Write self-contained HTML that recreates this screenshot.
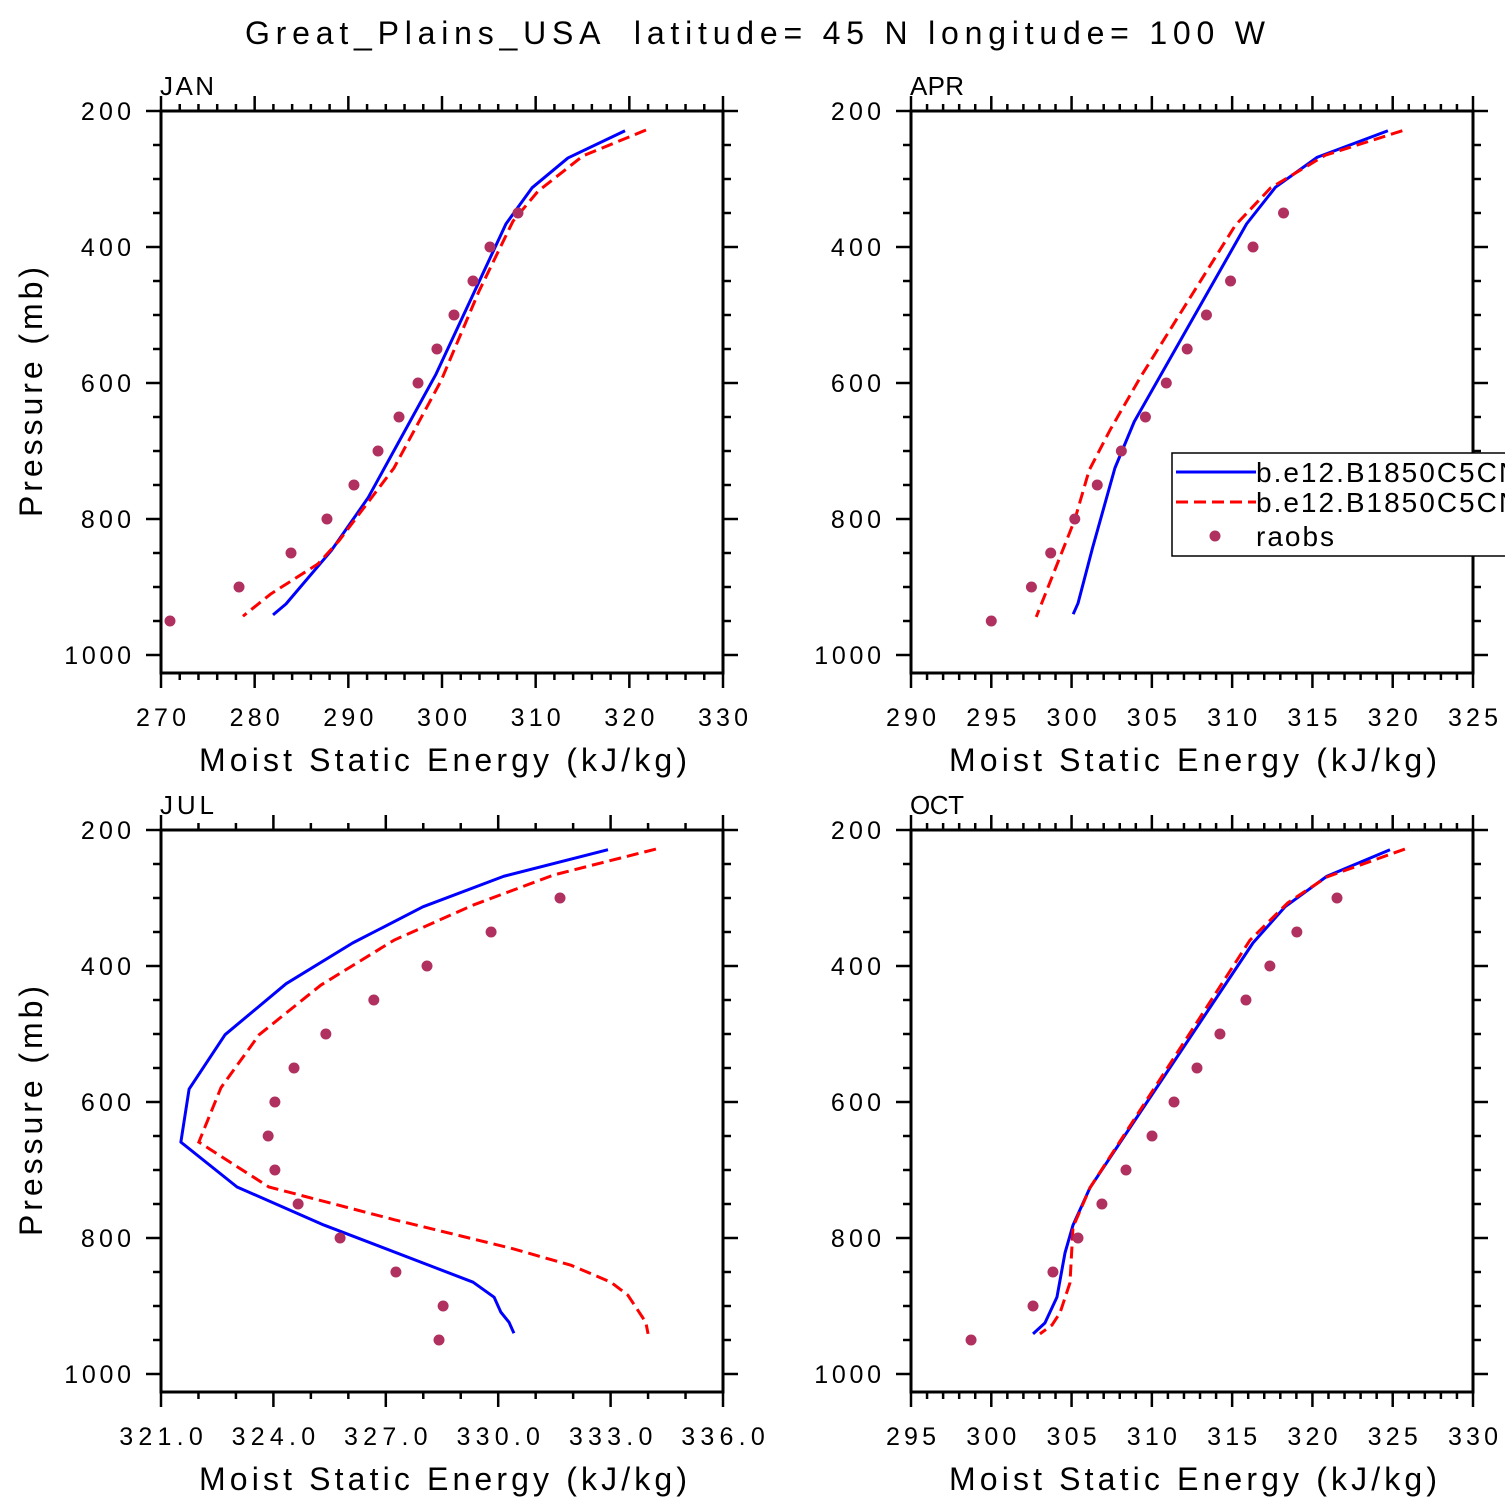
<!DOCTYPE html>
<html><head><meta charset="utf-8">
<style>
html,body{margin:0;padding:0;background:#fff;}
svg{display:block;font-family:"Liberation Sans",sans-serif;}
</style></head>
<body>
<svg id="chart" width="1510" height="1510" viewBox="0 0 1510 1510" xmlns="http://www.w3.org/2000/svg">
<defs><clipPath id="pageclip"><rect x="0" y="0" width="1505" height="1510"/></clipPath></defs>
<text x="245" y="44" font-size="32" textLength="1020" lengthAdjust="spacing" xml:space="preserve">Great_Plains_USA  latitude= 45 N longitude= 100 W</text>
<g id="panels" clip-path="url(#pageclip)"></g>
</svg>
<script>
// ---- JAN ----
const janBlueP = [229,269,313,366,587,769,847,925,941];
const janBlueX = [319.54,313.45,309.61,306.83,299.36,292.10,288.15,283.34,281.96];
const janRedP = [228,266,318,362,465,597,725,832,866,910,943];
const janRedX = [321.78,315.05,310.25,307.58,303.95,299.89,294.87,289.00,286.76,281.74,278.75];
const janObsP = [350,400,450,500,550,600,650,700,750,800,850,900,950];
const janObsX = [308.11,305.12,303.31,301.28,299.46,297.44,295.41,293.17,290.60,287.72,283.88,278.33,270.96];
// ---- APR ----
const aprBlueP = [229,268,312,366,657,725,843,924,940];
const aprBlueX = [319.7,315.3,312.7,310.9,303.9,302.7,301.3,300.4,300.1];
const aprRedP = [229,265,313,368,591,669,728,801,944];
const aprRedX = [320.6,315.8,312.4,310.2,304.3,302.4,301.1,300.2,297.8];
const aprObsP = [350,400,450,500,550,600,650,700,750,800,850,900,950];
const aprObsX = [313.2,311.3,309.9,308.4,307.2,305.9,304.6,303.1,301.6,300.2,298.7,297.5,295.0];
// ---- JUL ----
const julBlueP = [229,268,313,366,426,501,581,659,725,781,843,865,887,909,924,940];
const julBlueX = [332.93,330.15,327.99,326.12,324.34,322.71,321.75,321.53,323.03,325.35,328.29,329.33,329.89,330.07,330.29,330.42];
const julRedP = [228,266,310,362,428,501,579,659,725,773,815,840,865,884,924,941];
const julRedX = [334.21,331.49,329.35,327.22,325.27,323.62,322.60,322.01,323.88,327.22,330.34,331.94,333.01,333.46,333.94,334.00];
const julObsP = [300,350,400,450,500,550,600,650,700,750,800,850,900,950];
const julObsX = [331.65,329.81,328.10,326.68,325.40,324.55,324.04,323.86,324.04,324.66,325.78,327.27,328.53,328.42];
// ---- OCT ----
const octBlueP = [229,268,313,366,726,781,822,887,925,941];
const octBlueX = [324.83,320.90,318.29,316.30,306.15,305.09,304.59,304.09,303.34,302.60];
const octRedP = [228,269,307,362,726,784,866,910,928,941];
const octRedX = [325.76,320.90,318.47,316.11,306.15,305.09,304.90,304.28,303.78,303.03];
const octObsP = [300,350,400,450,500,550,600,650,700,750,800,850,900,950];
const octObsX = [321.53,319.03,317.35,315.86,314.24,312.81,311.38,310.01,308.39,306.89,305.40,303.84,302.60,298.74];
// ---- axis ticks ----
const janTicks = [270,280,290,300,310,320,330];
const aprTicks = [290,295,300,305,310,315,320,325];
const julTicks = [321.0,324.0,327.0,330.0,333.0,336.0];
const octTicks = [295,300,305,310,315,320,325,330];
const yTicks = [200,400,600,800,1000];
const legendLabels = ["b.e12.B1850C5CN","b.e12.B1850C5CN","raobs"];

const NS = "http://www.w3.org/2000/svg";
const root = document.getElementById('panels');
function mk(tag, attrs, parent){const e=document.createElementNS(NS,tag);for(const k in attrs)e.setAttribute(k,attrs[k]);(parent||root).appendChild(e);return e;}

const panels = [
 {id:'jan',label:'JAN',x0:161,y0:111,xmin:270,xmax:330,ticks:janTicks,minor:2,dec:0,bP:janBlueP,bX:janBlueX,rP:janRedP,rX:janRedX,oP:janObsP,oX:janObsX,ytitle:true},
 {id:'apr',label:'APR',x0:911,y0:111,xmin:290,xmax:325,ticks:aprTicks,minor:1,dec:0,bP:aprBlueP,bX:aprBlueX,rP:aprRedP,rX:aprRedX,oP:aprObsP,oX:aprObsX,legend:true},
 {id:'jul',label:'JUL',x0:161,y0:830,xmin:321,xmax:336,ticks:julTicks,minor:1,dec:1,bP:julBlueP,bX:julBlueX,rP:julRedP,rX:julRedX,oP:julObsP,oX:julObsX,ytitle:true},
 {id:'oct',label:'OCT',x0:911,y0:830,xmin:295,xmax:330,ticks:octTicks,minor:1,dec:0,bP:octBlueP,bX:octBlueX,rP:octRedP,rX:octRedX,oP:octObsP,oX:octObsX}
];
const W=562,H=562,PMIN=200,PMAX=200+562/0.68;

panels.forEach(p=>{
  const g=mk('g',{});
  
  
  const sx=v=>p.x0+(v-p.xmin)/(p.xmax-p.xmin)*W;
  const sy=v=>p.y0+(v-PMIN)/(PMAX-PMIN)*H;
  const tg=mk('g',{stroke:'#000','stroke-width':2.5},g);
  
  
  const nMin=Math.round((p.xmax-p.xmin)/p.minor);
  for(let i=0;i<=nMin;i++){
    const v=p.xmin+i*p.minor, x=sx(v);
    const major=p.ticks.some(t=>Math.abs(t-v)<1e-6);
    const L=major?15:7;
    mk('line',{x1:x,x2:x,y1:p.y0+H,y2:p.y0+H+L},tg);
    mk('line',{x1:x,x2:x,y1:p.y0,y2:p.y0-L},tg);
  }
  for(let v=200;v<=1000;v+=50){
    const y=sy(v), major=yTicks.includes(v), L=major?15:8;
    mk('line',{x1:p.x0,x2:p.x0-L,y1:y,y2:y},tg);
    mk('line',{x1:p.x0+W,x2:p.x0+W+L,y1:y,y2:y},tg);
  }
  const fr=mk('rect',{x:p.x0,y:p.y0,width:W,height:H,fill:'none',stroke:'#000','stroke-width':3},g);
  
  
  p.ticks.forEach(t=>{
    const s=t.toFixed(p.dec);
    const tx=mk('text',{x:sx(t),y:p.y0+H+53,'font-size':25,'text-anchor':'middle',textLength:s.length*16.7,lengthAdjust:'spacing'},g);
    tx.textContent=s;
    
    
  });
  yTicks.forEach(t=>{
    const s=String(t);
    const tx=mk('text',{x:p.x0-30,y:sy(t)+9,'font-size':25,'text-anchor':'end',textLength:s.length*16.7,lengthAdjust:'spacing'},g);
    tx.textContent=s;
    
    
  });
  const xt=mk('text',{x:p.x0+38,y:p.y0+H+98,'font-size':32,textLength:488,lengthAdjust:'spacing'},g);
  xt.textContent='Moist Static Energy (kJ/kg)';
  
  
  if(p.ytitle){
    const cy=p.y0+281;
    const yt=mk('text',{x:0,y:0,'font-size':32,'text-anchor':'middle',textLength:250,lengthAdjust:'spacing',transform:`translate(42,${cy}) rotate(-90)`},g);
    yt.textContent='Pressure (mb)';
    
    
  }
  const lb=mk('text',{x:p.x0-1,y:p.y0-16,'font-size':26,textLength:54,lengthAdjust:'spacing'},g);
  lb.textContent=p.label;
  
  
  const bl=mk('polyline',{points:p.bP.map((v,i)=>sx(p.bX[i])+','+sy(v)).join(' '),fill:'none',stroke:'#0000ff','stroke-width':3,'stroke-linejoin':'round'},g);
  
  
  const rl=mk('polyline',{points:p.rP.map((v,i)=>sx(p.rX[i])+','+sy(v)).join(' '),fill:'none',stroke:'#ff0000','stroke-width':3,'stroke-dasharray':'12,6'},g);
  
  
  p.oP.forEach((v,i)=>{
    const c=mk('circle',{cx:sx(p.oX[i]),cy:sy(v),r:5.5,fill:'#b0305f'},g);
    
    
  });
  if(p.legend){
    const lg=mk('g',{},g);
    
    
    mk('rect',{x:1172,y:453,width:400,height:103,fill:'#fff',stroke:'#000','stroke-width':1.5},lg);
    mk('line',{x1:1176,x2:1256,y1:472,y2:472,stroke:'#0000ff','stroke-width':3},lg);
    mk('line',{x1:1176,x2:1256,y1:502,y2:502,stroke:'#ff0000','stroke-width':3,'stroke-dasharray':'12,6'},lg);
    mk('circle',{cx:1215,cy:536,r:5.5,fill:'#b0305f'},lg);
    [481,511,545].forEach((y,i)=>{
      const t=mk('text',{x:1256,y:y+1,'font-size':28,'letter-spacing':2},lg);
      t.textContent=legendLabels[i];
      
      
    });
  }
});
</script>
</body></html>
